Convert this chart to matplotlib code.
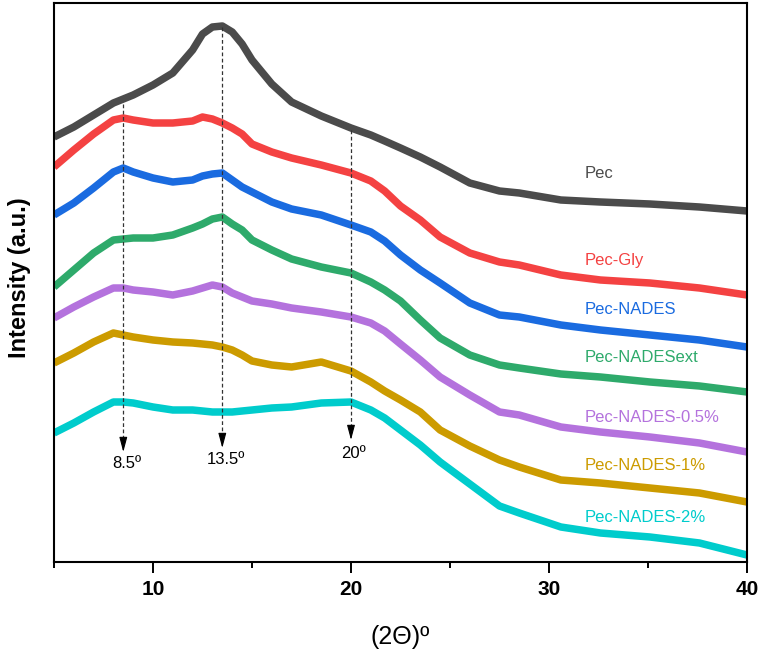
import matplotlib
matplotlib.use("Agg")
import matplotlib.pyplot as plt

plt.rcParams['font.family'] = ['Liberation Sans', 'DejaVu Sans']

# 2-theta grid (degrees)
two_theta = [5, 6, 7, 8, 8.5, 9, 10, 11, 12, 12.5, 13, 13.5, 14, 14.5, 15, 16, 17, 18.5,
             20, 21, 21.7, 22.5, 23.5, 24.5, 26, 27.5, 28.5, 30.6, 32.6, 35.1, 37.6, 40]

# Intensities (a.u., stacked as plotted)
pec = [425, 435, 447, 459, 463, 467, 477, 489, 512, 528, 535, 536, 530, 518, 502, 478, 460, 446,
       434, 427, 421, 414, 405, 395, 379, 371, 369, 362, 360, 358, 355, 351]
pec_gly = [395, 412, 428, 442, 444, 442, 439, 439, 441, 445, 443, 439, 434, 428, 418, 410, 404, 397,
           389, 381, 371, 356, 342, 325, 309, 300, 297, 287, 282, 279, 274, 267]
pec_nades = [347, 359, 374, 390, 394, 390, 384, 380, 382, 386, 388, 389, 382, 375, 370, 360, 353, 347,
             337, 330, 321, 307, 292, 279, 259, 247, 245, 237, 232, 227, 222, 215]
pec_nadesext = [275, 292, 309, 322, 323, 324, 324, 327, 334, 338, 343, 345, 338, 332, 322, 312, 303, 295,
                289, 280, 272, 261, 242, 224, 207, 197, 194, 188, 185, 180, 176, 170]
pec_nades_05 = [244, 255, 265, 274, 274, 272, 270, 267, 271, 274, 277, 275, 269, 265, 261, 258, 254, 250,
                245, 239, 231, 218, 202, 185, 167, 150, 147, 135, 130, 125, 119, 110]
pec_nades_1 = [199, 209, 220, 229, 227, 225, 222, 220, 219, 218, 217, 215, 212, 207, 201, 197, 195, 200,
               191, 180, 171, 162, 150, 132, 116, 102, 95, 82, 79, 74, 69, 60]
pec_nades_2 = [129, 139, 150, 160, 160, 159, 155, 152, 152, 151, 150, 150, 150, 151, 152, 154, 155, 159,
               160, 152, 144, 132, 117, 100, 78, 56, 49, 35, 29, 25, 19, 7]

series_names = ["Pec", "Pec-Gly", "Pec-NADES", "Pec-NADESext",
                "Pec-NADES-0.5%", "Pec-NADES-1%", "Pec-NADES-2%"]
series_values = [pec, pec_gly, pec_nades, pec_nadesext, pec_nades_05, pec_nades_1, pec_nades_2]
colors = ["#4b4b4b", "#f44242", "#1a6be0", "#2eaa6b", "#b472dd", "#cc9b00", "#00cccc"]
label_y = [389, 302, 252, 205, 145, 97, 45]

peak_positions = [8.5, 13.5, 20]
peak_labels = ["8.5º", "13.5º", "20º"]

fig = plt.figure(figsize=(7.62, 6.53), dpi=100)
ax = fig.add_axes([54/762, 1-562/653, (747-54)/762, (562-3)/653])

for name, vals, c, ly in zip(series_names, series_values, colors, label_y):
    ax.plot(two_theta, vals, color=c, lw=5.4, solid_joinstyle='round', solid_capstyle='butt')
    ax.text(31.8, ly, name, color=c, fontsize=12, ha='left', va='center')

# dashed guide lines + arrows
line_top = [458, 535, 432]
arrow_tip = [110, 114, 122]
text_pos = [(8.7, 99), (13.7, 102), (20.15, 109)]
for xp, top, tip, lab, (tx, ty) in zip(peak_positions, line_top, arrow_tip, peak_labels, text_pos):
    ax.plot([xp, xp], [top, tip + 8], color='#333333', lw=0.9, ls=(0, (3, 2)))
    ax.annotate("", xy=(xp, tip), xytext=(xp, tip + 10),
                arrowprops=dict(arrowstyle='-|>,head_length=0.75,head_width=0.2',
                                color='black', lw=0.8, mutation_scale=12,
                                shrinkA=0, shrinkB=0))
    ax.text(tx, ty, lab, fontsize=12, ha='center', va='center', color='black')

ax.set_xlim(5, 40)
ax.set_ylim(0, 559)
ax.set_yticks([])
ax.set_xticks([10, 20, 30, 40])
ax.set_xticks([5, 15, 25, 35], minor=True)
ax.tick_params(axis='x', which='major', direction='out', length=8, width=1.4, pad=5,
               labelsize=15)
ax.tick_params(axis='x', which='minor', direction='out', length=4, width=1.4)
for lbl in ax.get_xticklabels():
    lbl.set_fontweight('bold')
for s in ax.spines.values():
    s.set_linewidth(1.5)

fig.text(20/762, 1-278/653, "Intensity (a.u.)", rotation=90, ha='center', va='center',
         fontsize=17, fontweight='bold')
fig.text(400/762, 1-637/653, "(2Θ)º", ha='center', va='center', fontsize=18)

fig.savefig("out.png", dpi=100)
